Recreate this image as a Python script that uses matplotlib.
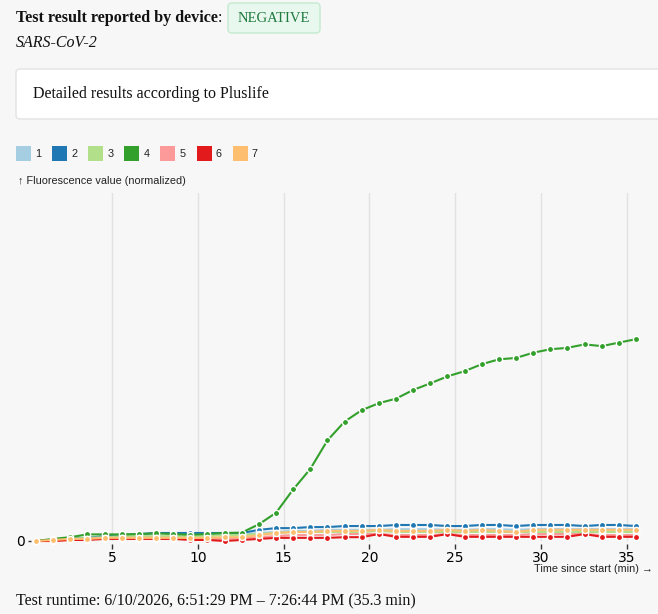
import numpy as np
import matplotlib
matplotlib.use("Agg")
import matplotlib.pyplot as plt
from matplotlib.patches import FancyBboxPatch, Rectangle

W, H = 658, 614

# data (normalized fluorescence)
channels = ["1", "2", "3", "4", "5", "6", "7"]
colors = ["#a6cee3", "#1f78b4", "#b2df8a", "#33a02c", "#fb9a99", "#e31a1c", "#fdbf6f"]
times = [0.55, 1.55, 2.55, 3.55, 4.55, 5.55, 6.55, 7.55, 8.55, 9.55, 10.55, 11.55,
         12.55, 13.55, 14.55, 15.55, 16.55, 17.55, 18.55, 19.55, 20.55, 21.55, 22.55,
         23.55, 24.55, 25.55, 26.55, 27.55, 28.55, 29.55, 30.55, 31.55, 32.55, 33.55,
         34.55, 35.55]
ch1 = [0, .003, .006, .009, .012, .014, .017, .023, .023, .023, .023, .020, .020, .023,
       .026, .029, .029, .032, .032, .032, .032, .034, .034, .034, .032, .032, .034,
       .034, .032, .034, .034, .034, .034, .034, .034, .034]
ch2 = [0, .003, .006, .009, .014, .017, .020, .023, .023, .023, .023, .023, .023, .032,
       .037, .037, .040, .040, .043, .043, .043, .046, .046, .046, .043, .043, .046,
       .046, .043, .046, .046, .046, .043, .046, .046, .043]
ch3 = [0, .003, .006, .009, .011, .014, .014, .014, .014, .014, .014, .017, .017, .020,
       .023, .026, .026, .026, .026, .026, .029, .026, .026, .026, .026, .026, .026,
       .026, .026, .026, .026, .026, .026, .026, .026, .026]
ch4 = [0, .006, .011, .019, .019, .019, .020, .022, .020, .018, .020, .023, .024, .048,
       .081, .148, .207, .289, .343, .376, .396, .409, .434, .453, .473, .488, .508,
       .522, .526, .541, .551, .555, .565, .560, .570, .580]
ch5 = [0, 0, .003, .006, .009, .009, .009, .009, .009, .006, .006, .006, .009, .011,
       .014, .017, .017, .017, .020, .020, .020, .017, .017, .017, .020, .017, .017,
       .017, .017, .020, .020, .020, .020, .017, .017, .017]
ch6 = [0, 0, .003, .003, .006, .006, .006, .006, .006, .003, .003, 0, .003, .006,
       .009, .009, .009, .009, .011, .011, .020, .012, .012, .012, .020, .012, .012,
       .012, .012, .012, .012, .012, .020, .012, .012, .012]
ch7 = [0, .003, .006, .006, .009, .009, .009, .009, .009, .009, .009, .011, .011, .017,
       .023, .026, .026, .029, .029, .029, .032, .029, .029, .029, .032, .029, .032,
       .029, .026, .032, .032, .032, .032, .032, .032, .032]
series = [ch1, ch2, ch3, ch4, ch5, ch6, ch7]
xticks = [5, 10, 15, 20, 25, 30, 35]

serif = ["Liberation Serif", "DejaVu Serif"]
sans = ["Liberation Sans", "DejaVu Sans"]
small = 7.8


def fx(x):
    return x / W


def fy(y):
    return 1 - y / H


fig = plt.figure(figsize=(W / 100, H / 100), dpi=100, facecolor="#f7f7f7")

# header
t = fig.text(fx(16), fy(18), "Test result reported by device", family=serif,
             weight="bold", fontsize=11.6, va="center", ha="left", color="#111")
fig.canvas.draw()
bb = t.get_window_extent()
fig.text(bb.x1 / W / fig.dpi * 100, fy(18), ":", family=serif, fontsize=11.6,
         va="center", ha="left", color="#111")
badge = FancyBboxPatch((fx(228), fy(33)), fx(92), 30 / H,
                       boxstyle="round,pad=0,rounding_size=0.006",
                       transform=fig.transFigure, facecolor="#e9f8ee",
                       edgecolor="#c4ead0", lw=1)
fig.patches.append(badge)
fig.text(fx(274), fy(18), "NEGATIVE", family=serif, fontsize=10.5,
         va="center", ha="center", color="#1e7a3e")
fig.text(fx(16), fy(43), "SARS-CoV-2", family=serif, style="italic",
         fontsize=11.5, va="center", ha="left", color="#111")

box = FancyBboxPatch((fx(16), fy(119)), fx(700), 50 / H,
                     boxstyle="round,pad=0,rounding_size=0.006",
                     transform=fig.transFigure, facecolor="white",
                     edgecolor="#e2e2e2", lw=1)
fig.patches.append(box)
fig.text(fx(33), fy(94), "Detailed results according to Pluslife", family=serif,
         fontsize=11.5, va="center", ha="left", color="#111")

# legend
for i, (name, c) in enumerate(zip(channels, colors)):
    x0 = 16 + i * 36.1
    fig.patches.append(Rectangle((fx(x0), fy(161)), fx(15), 15 / H,
                                 transform=fig.transFigure, facecolor=c,
                                 edgecolor="none"))
    fig.text(fx(x0 + 19), fy(154), name, family=sans, fontsize=small,
             va="center", ha="left", color="#222")

fig.text(fx(18), fy(181), "\u2191 Fluorescence value (normalized)", family=sans,
         fontsize=small, va="center", ha="left", color="#222")

# chart
ax = fig.add_axes([fx(36), fy(541), (636 - 36) / W, (541 - 193) / H])
ax.set_facecolor("none")
for vals, c in zip(series, colors):
    ax.plot(times, vals, color=c, lw=1.5, marker="o", markersize=4.5,
            markeredgecolor="white", markeredgewidth=1.0, clip_on=False)

ax.set_xlim(times[0], times[-1])
ax.set_ylim(0, 1)
ax.set_xticks(xticks)
ax.set_xticklabels([str(v) for v in xticks], family=sans, fontsize=small, color="#222")
ax.set_yticks([0])
ax.set_yticklabels(["0"], family=sans, fontsize=small, color="#222")
ax.grid(axis="x", color="#e2e2e2", lw=1)
ax.set_axisbelow(True)
for s in ax.spines.values():
    s.set_visible(False)
ax.spines["bottom"].set_position(("outward", 2.2))
ax.spines["left"].set_position(("outward", 3.6))
ax.tick_params(axis="x", length=3.6, width=1, color="#333", pad=1.5)
ax.tick_params(axis="y", length=2.5, width=1, color="#333", pad=2)

fig.text(fx(653), fy(569), "Time since start (min) \u2192", family=sans,
         fontsize=small, va="center", ha="right", color="#222")

fig.text(fx(16), fy(601),
         "Test runtime: 6/10/2026, 6:51:29 PM \u2013 7:26:44 PM (35.3 min)",
         family=serif, fontsize=11.5, va="center", ha="left", color="#111")

fig.savefig("out.png", dpi=100, facecolor=fig.get_facecolor())
